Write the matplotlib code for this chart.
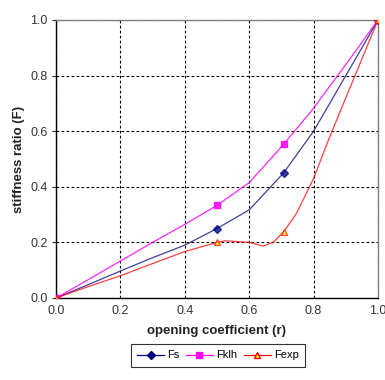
import matplotlib
matplotlib.use("Agg")
import matplotlib.pyplot as plt
from matplotlib.lines import Line2D

plt.rcParams['font.family'] = ['Liberation Sans', 'DejaVu Sans']

# opening coefficient r and stiffness ratios
r_fs = [0.0, 0.1, 0.2, 0.3, 0.4, 0.5, 0.6, 0.707, 0.8, 0.9, 1.0]
fs = [0.0, 0.048, 0.097, 0.145, 0.19, 0.25, 0.317, 0.45, 0.6, 0.8, 1.0]
fs_marks = [0, 5, 7, 10]

r_fklh = [0.0, 0.1, 0.2, 0.3, 0.4, 0.5, 0.6, 0.707, 0.8, 0.9, 1.0]
fklh = [0.0, 0.066, 0.133, 0.2, 0.265, 0.333, 0.415, 0.553, 0.683, 0.84, 1.0]
fklh_marks = [0, 5, 7, 10]

r_fexp = [0.0, 0.1, 0.2, 0.3, 0.4, 0.5, 0.525, 0.6, 0.643, 0.674, 0.707,
          0.747, 0.8, 0.85, 0.9, 0.95, 1.0]
fexp = [0.0, 0.041, 0.08, 0.124, 0.167, 0.2, 0.206, 0.2, 0.187, 0.2, 0.238,
        0.305, 0.43, 0.58, 0.72, 0.86, 1.0]
fexp_marks = [0, 5, 10, 16]

ticks = [0.0, 0.2, 0.4, 0.6, 0.8, 1.0]
tick_labels = ['0.0', '0.2', '0.4', '0.6', '0.8', '1.0']

fig = plt.figure(figsize=(3.85, 3.80), dpi=100)
ax = fig.add_axes([56 / 385, 82 / 380, 322 / 385, 278 / 380])

ax.plot(r_fs, fs, color='#000080', lw=0.9, alpha=0.75, marker='D', ms=4,
        markevery=fs_marks, mfc='#000080', mec='#000080', zorder=3)
ax.plot(r_fklh, fklh, color='#ff00ff', lw=0.9, alpha=0.85, marker='s', ms=5,
        markevery=fklh_marks, mfc='#ff00ff', mec='#ff00ff', zorder=3)
ax.plot(r_fexp, fexp, color='#ff0000', lw=0.9, alpha=0.75, marker='^', ms=5,
        markevery=fexp_marks, mfc='#ffff00', mec='#ff0000', mew=0.9, zorder=4)

ax.set_xlim(0, 1)
ax.set_ylim(0, 1)
ax.set_xticks(ticks)
ax.set_xticklabels(tick_labels)
ax.set_yticks(ticks)
ax.set_yticklabels(tick_labels)
ax.tick_params(labelsize=9, colors='#333333', length=3, width=0.8, pad=3)
ax.tick_params(axis='x', length=0, pad=5)

ax.grid(True, color='black', ls=(0, (2.5, 2)), lw=0.8)
ax.set_axisbelow(True)

for side in ('left', 'bottom'):
    ax.spines[side].set_color('black')
    ax.spines[side].set_linewidth(1.0)
for side in ('top', 'right'):
    ax.spines[side].set_color('#808080')
    ax.spines[side].set_linewidth(1.0)

ax.set_xlabel('opening coefficient (r)', fontsize=9.5, fontweight='bold',
              color='#222222', labelpad=6)
ax.set_ylabel('stiffness ratio (F)', fontsize=9.5, fontweight='bold',
              color='#222222', labelpad=4)

handles = [
    Line2D([], [], color='#000080', lw=0.9, marker='D', ms=4, mfc='#000080',
           mec='#000080'),
    Line2D([], [], color='#ff00ff', lw=0.9, marker='s', ms=5, mfc='#ff00ff',
           mec='#ff00ff'),
    Line2D([], [], color='#ff0000', lw=0.9, marker='^', ms=5, mfc='#ffff00',
           mec='#ff0000'),
]
leg = fig.legend(handles, ['Fs', 'Fklh', 'Fexp'], loc='center',
                 bbox_to_anchor=(218 / 385, 1 - 355.5 / 380), ncol=3,
                 fontsize=8, frameon=True, fancybox=False, edgecolor='black',
                 handlelength=2.4, handletextpad=0.3, columnspacing=0.6,
                 borderpad=0.6)
leg.get_frame().set_linewidth(0.8)

fig.savefig('out.png', dpi=100)
